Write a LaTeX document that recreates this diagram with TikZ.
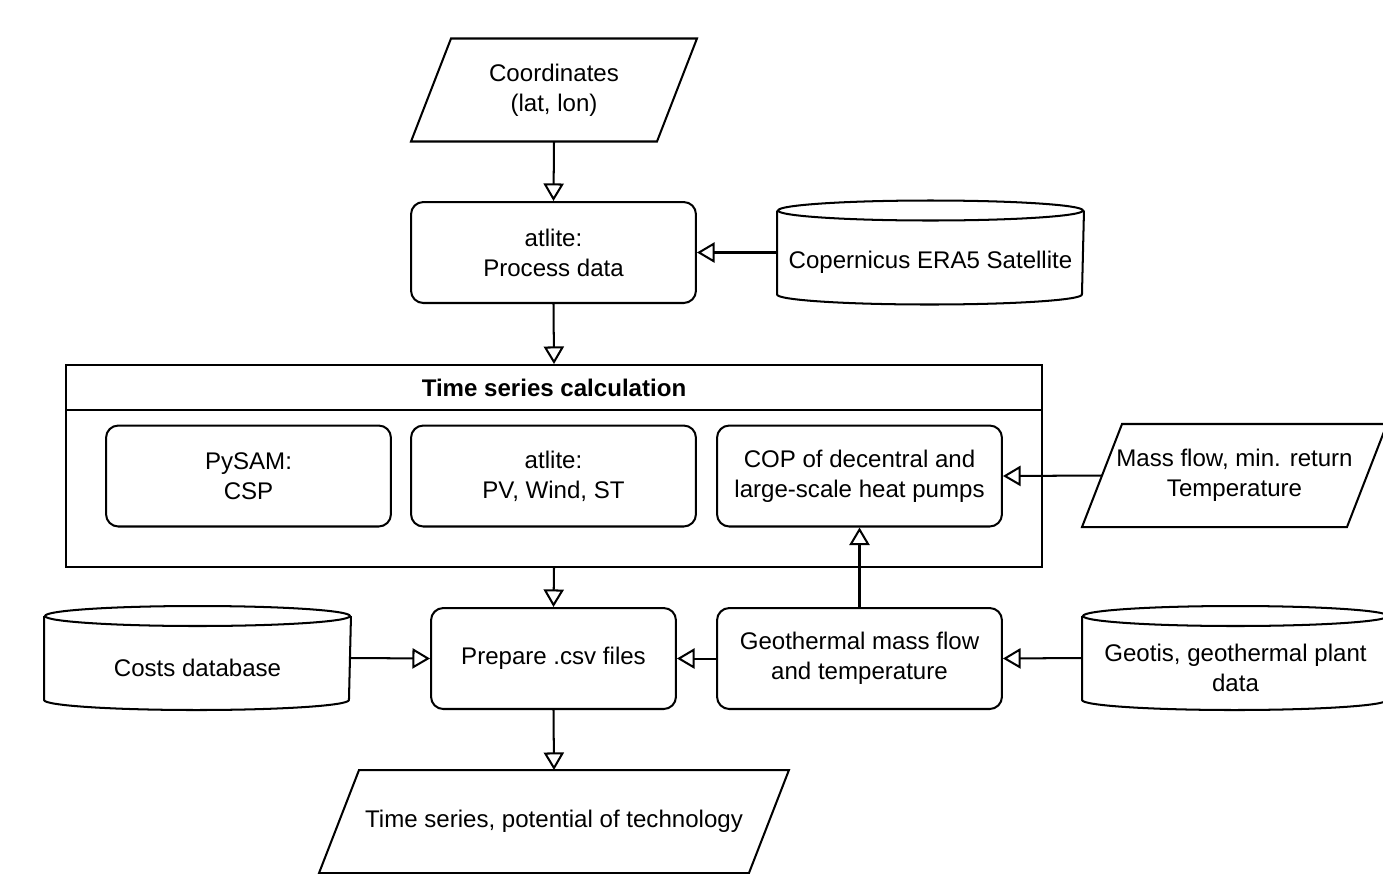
\documentclass[tikz,border=0pt]{standalone}
\usepackage{fontspec}
\setmainfont{Liberation Sans}
\usetikzlibrary{arrows.meta}

\tikzset{
	procbox/.style={draw, rounded corners=7pt, minimum width=5.7cm, minimum height=2.02cm, align=center},
	inout/.style={minimum height=2.02cm, align=center, inner sep=1pt},
	dbase/.style={minimum width=6.1cm, minimum height=2.04cm, inner sep=0pt},
	flow/.style={-{Triangle[open, length=10pt, width=11.5pt]}},
}

\begin{document}
\begin{tikzpicture}[x=0.02cm, y=-0.02cm, line width=1.15pt, font=\fontsize{13.7}{17}\selectfont]
		\clip (0,0) rectangle (1383,873);
		% Entrada
		\node[inout, minimum width=4.88cm] (coords) at (554,90) {Coordinates\\(lat, lon)};
		\node[procbox] (atlite) at (553.5,252.5) {atlite:\\Process data};
		\node[dbase, label={[align=center, yshift=-0.2cm]center:Copernicus ERA5 Satellite}] (era5) at (930.5,252.5) {};
		% Bloque de series temporales
		\node[draw, minimum width=19.52cm, minimum height=4.04cm] (tsc) at (554,466) {};
		\coordinate (hdr) at (0,410);
		\draw (tsc.west |- hdr) -- (tsc.east |- hdr);
		\node[font=\fontsize{13.7}{17}\selectfont\bfseries] (tsctitle) at (554,388) {Time series calculation};
		\node[procbox] (pysam) at (248.5,476) {PySAM:\\CSP};
		\node[procbox] (pvwind) at (553.5,476) {atlite:\\PV, Wind, ST};
		\node[procbox] (cop) at (859.5,476) {COP of decentral and\\large-scale heat pumps};
		\node[inout, minimum width=5.26cm] (massflow) at (1234.5,475.5) {Mass flow, min. return\\Temperature};
		% Fila inferior
		\node[procbox, minimum width=4.9cm] (csv) at (553.5,658.5) {Prepare .csv files};
		\node[procbox] (geo) at (859.5,658.5) {Geothermal mass flow\\and temperature};
		\node[dbase, label={[align=center, yshift=-0.2cm]center:Costs database}] (costs) at (197.5,658) {};
		\node[dbase, label={[align=center, yshift=-0.2cm]center:{Geotis, geothermal plant\\data}}] (geotis) at (1235.5,658) {};
		% Salida
		\node[inout, minimum width=8.56cm] (tsout) at (554,821.5) {Time series, potential of technology};
		% Paralelogramos
		\foreach \io in {coords,massflow,tsout}{
			\draw ([xshift=0.4cm]\io.north west) -- ([xshift=0.4cm]\io.north east)
				-- ([xshift=-0.4cm]\io.south east) -- ([xshift=-0.4cm]\io.south west) -- cycle;
		}
		% Cilindros
		\foreach \db in {era5,costs,geotis}{
			\draw ([yshift=-0.2cm]\db.north) ellipse [x radius=3.05cm, y radius=0.2cm];
			\draw ([yshift=-0.2cm]\db.north west) -- ([yshift=0.2cm]\db.south west)
				arc[start angle=180, end angle=360, x radius=3.05cm, y radius=0.2cm]
				-- ([yshift=-0.2cm]\db.north east);
		}
		% Flechas
		\draw[flow] (coords.south) -- (atlite.north);
		\draw[flow] (era5.west) -- (atlite.east);
		\draw[flow] (atlite.south) -- (tsc.north);
		\draw[flow] (massflow.west) -- (cop.east);
		\draw[flow] (tsc.south) -- (csv.north);
		\draw[flow] (geo.north) -- (cop.south);
		\draw[flow] (costs.east) -- (csv.west);
		\draw[flow] (geo.west) -- (csv.east);
		\draw[flow] (geotis.west) -- (geo.east);
		\draw[flow] (csv.south) -- (tsout.north);
	\end{tikzpicture}
\end{document}
